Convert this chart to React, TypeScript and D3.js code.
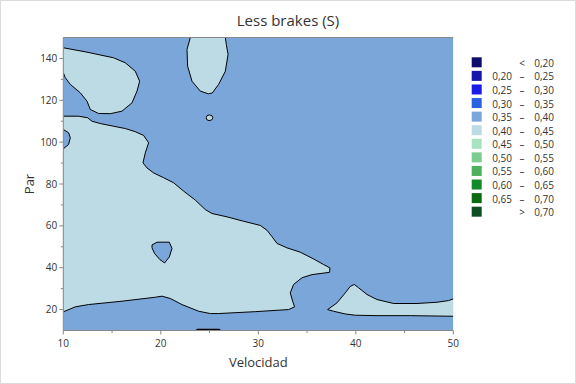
import React from "react";
import * as d3 from "d3";

const W = 576;
const H = 384;

const title = "Less brakes (S)";
const xLabel = "Velocidad";
const yLabel = "Par";
const xDomain: [number, number] = [10, 50];
const yDomain: [number, number] = [10, 150];
const xTicks = [10, 20, 30, 40, 50];
const xMinor = [15, 25, 35, 45];
const yTicks = [20, 40, 60, 80, 100, 120, 140];
const yMinor = [30, 50, 70, 90, 110, 130];

const legendLow = ["", "0,20", "0,25", "0,30", "0,35", "0,40", "0,45", "0,50", "0,55", "0,60", "0,65", ""];
const legendSym = ["<", "–", "–", "–", "–", "–", "–", "–", "–", "–", "–", ">"];
const legendHigh = ["0,20", "0,25", "0,30", "0,35", "0,40", "0,45", "0,50", "0,55", "0,60", "0,65", "0,70", "0,70"];
const legendColors = [
  "#0d0d6b", "#1616a8", "#1b1be6", "#2b62e2", "#7ba6d9", "#bddbe4",
  "#a9e2c0", "#7dcb8f", "#4cb05c", "#128a2b", "#0a6a12", "#0f4d22",
];

const colorBase = legendColors[4]; // 0,35 – 0,40
const colorLight = legendColors[5]; // 0,40 – 0,45

// contour boundaries [Velocidad, Par]
const regionA: [number, number][] = [
  [10.0, 145.1], [12.43, 143.0], [15.16, 140.3], [16.36, 137.9], [17.38, 133.9],
  [17.83, 129.1], [17.56, 124.4], [17.05, 118.8], [16.02, 114.8], [14.82, 113.6],
  [13.62, 113.7], [12.77, 115.6], [12.43, 119.6], [11.74, 123.6], [10.72, 127.6],
  [10.2, 130.8], [10.0, 133.2],
];
const regionB: [number, number][] = [
  [23.03, 150], [22.69, 144.3], [22.75, 136.3], [23.2, 129.1], [24.05, 124.4],
  [24.87, 123.1], [25.28, 123.5], [25.93, 127.6], [26.62, 133.9], [26.9, 141.9],
  [26.72, 146.7], [26.62, 150],
];
const regionC: [number, number][] = [
  [24.66, 111.7], [24.75, 112.7], [25.0, 113.0], [25.25, 112.6], [25.34, 111.6],
  [25.22, 110.6], [24.95, 110.3], [24.72, 110.7],
];
const regionD: [number, number][] = [
  [10.0, 106.05], [10.54, 104.5], [10.72, 102.1], [10.54, 98.9], [10.0, 96.8],
];
const regionE: [number, number][] = [
  [10.0, 112.4], [11.57, 112.4], [12.49, 111.65], [12.94, 110.0], [13.79, 108.9],
  [15.16, 107.6], [16.36, 106.5], [17.38, 105.0], [18.24, 103.2], [18.75, 99.7],
  [18.41, 94.9], [18.17, 90.1], [18.58, 87.7], [19.26, 85.3], [20.29, 83.0],
  [21.31, 80.6], [22.34, 76.6], [23.54, 72.3], [24.56, 67.8], [25.25, 65.9],
  [26.79, 64.3], [28.49, 62.2], [30.21, 60.2], [30.89, 57.9], [31.41, 54.8],
  [31.92, 51.6], [32.94, 49.5], [34.31, 47.4], [35.67, 44.2], [36.7, 41.5],
  [37.35, 39.9], [37.31, 37.8], [35.51, 36.7], [34.48, 35.2], [33.62, 32.0],
  [33.28, 28.0], [33.52, 24.0], [33.72, 21.3], [33.11, 20.0], [29.69, 19.0],
  [25.93, 18.1], [25.08, 18.1], [23.88, 19.2], [22.17, 22.4], [20.97, 25.3],
  [20.12, 26.4], [19.44, 25.9], [16.02, 24.0], [12.59, 22.4], [11.23, 21.3],
  [10.0, 18.9],
];
const regionF: [number, number][] = [
  [19.1, 50.9], [19.61, 52.2], [20.87, 52.2], [21.15, 49.2], [20.87, 45.1],
  [20.39, 42.3], [19.9, 43.9], [19.36, 46.8], [19.1, 49.5],
];
const regionGTop: [number, number][] = [
  [37.11, 20.0], [38.07, 23.2], [38.92, 28.0], [39.44, 31.1], [39.85, 32.0],
  [40.29, 30.4], [41.15, 27.2], [42.17, 24.8], [43.88, 22.9], [46.28, 22.9],
  [48.33, 23.5], [49.52, 24.3], [50.0, 25.1],
];
const regionGBottom: [number, number][] = [
  [50.0, 16.8], [45.59, 17.1], [42.17, 17.1], [39.95, 17.3], [38.92, 17.9],
  [37.72, 19.2], [37.11, 20.0],
];
const regionH: [number, number][] = [
  [23.6, 10.0], [23.75, 10.5], [26.0, 10.5], [26.1, 10.0],
];

const margin = { left: 63.3, right: 453.3, top: 37.5, bottom: 330.5 };
const font = "'Open Sans', 'Noto Sans', sans-serif";
const textColor = "#333";
const axisColor = "#888";

export default function App() {
  const x = d3.scaleLinear().domain(xDomain).range([margin.left, margin.right]);
  const y = d3.scaleLinear().domain(yDomain).range([margin.bottom, margin.top]);
  const line = d3.line<[number, number]>().x((d) => x(d[0])).y((d) => y(d[1]));
  const closed = (pts: [number, number][]) => line(pts)! + "Z";
  const gPoly = regionGTop.concat(regionGBottom);

  const plotW = margin.right - margin.left;
  const plotH = margin.bottom - margin.top;

  const legendX = 471.7;
  const legendY0 = 57.3;
  const legendStep = 13.58;

  return (
    <svg width={W} height={H} style={{ display: "block", position: "absolute", left: 0, top: 0 }}
      fontFamily={font}>
      <rect x={0} y={0} width={W} height={H} fill="#fff" />
      <rect x={0.5} y={0.5} width={W - 1} height={H - 1} fill="none" stroke="#dcdcdc" />
      <text x={288} y={25.5} textAnchor="middle" fontSize={15} fill={textColor}>{title}</text>

      <defs>
        <clipPath id="plotclip">
          <rect x={margin.left} y={margin.top} width={plotW} height={plotH} />
        </clipPath>
      </defs>
      <g clipPath="url(#plotclip)">
        <rect x={margin.left} y={margin.top} width={plotW} height={plotH} fill={colorBase} />
        <path d={closed(regionA)} fill={colorLight} />
        <path d={closed(regionB)} fill={colorLight} />
        <path d={closed(regionC)} fill={colorLight} />
        <path d={closed(regionE)} fill={colorLight} />
        <path d={closed(regionD)} fill={colorBase} />
        <path d={closed(regionF)} fill={colorBase} />
        <path d={closed(gPoly)} fill={colorLight} />
        <g fill="none" stroke="#000" strokeWidth={1} strokeLinejoin="round">
          <path d={line(regionA)!} />
          <path d={line(regionB)!} />
          <path d={closed(regionC)} />
          <path d={line(regionD)!} />
          <path d={line(regionE)!} />
          <path d={closed(regionF)} />
          <path d={line(regionGTop)!} />
          <path d={line(regionGBottom)!} />
          <path d={line(regionH)!} strokeWidth={1.3} />
        </g>
      </g>
      {/* frame top */}
      <line x1={margin.left} x2={margin.right} y1={margin.top} y2={margin.top} stroke={axisColor} strokeWidth={1} />
      {/* axes */}
      <line x1={margin.left} x2={margin.left} y1={margin.top} y2={margin.bottom} stroke={axisColor} />
      <line x1={margin.left} x2={margin.right} y1={margin.bottom} y2={margin.bottom} stroke={axisColor} />
      {xTicks.map((t) => (
        <g key={"xt" + t}>
          <line x1={x(t)} x2={x(t)} y1={margin.bottom} y2={margin.bottom + 4} stroke={axisColor} />
          <text x={x(t)} y={margin.bottom + 16} textAnchor="middle" fontSize={10} fill={textColor}>{t}</text>
        </g>
      ))}
      {xMinor.map((t) => (
        <line key={"xm" + t} x1={x(t)} x2={x(t)} y1={margin.bottom} y2={margin.bottom + 2.5} stroke={axisColor} />
      ))}
      {yTicks.map((t) => (
        <g key={"yt" + t}>
          <line x1={margin.left - 4} x2={margin.left} y1={y(t)} y2={y(t)} stroke={axisColor} />
          <text x={margin.left - 6} y={y(t) + 3.5} textAnchor="end" fontSize={10} fill={textColor}>{t}</text>
        </g>
      ))}
      {yMinor.map((t) => (
        <line key={"ym" + t} x1={margin.left - 2.5} x2={margin.left} y1={y(t)} y2={y(t)} stroke={axisColor} />
      ))}
      <text x={(margin.left + margin.right) / 2} y={367} textAnchor="middle" fontSize={13} fill={textColor}>{xLabel}</text>
      <text transform={`translate(34,${(margin.top + margin.bottom) / 2}) rotate(-90)`} textAnchor="middle"
        fontSize={13} fill={textColor}>{yLabel}</text>

      {legendColors.map((c, i) => {
        const top = legendY0 + i * legendStep;
        return (
          <g key={"lg" + i}>
            <rect x={legendX} y={top} width={10} height={10} fill={c} />
            <text x={512} y={top + 9.5} textAnchor="end" fontSize={10} fill={textColor}>{legendLow[i]}</text>
            <text x={522} y={top + 9.5} textAnchor="middle" fontSize={10} fill={textColor}>{legendSym[i]}</text>
            <text x={554} y={top + 9.5} textAnchor="end" fontSize={10} fill={textColor}>{legendHigh[i]}</text>
          </g>
        );
      })}
    </svg>
  );
}
